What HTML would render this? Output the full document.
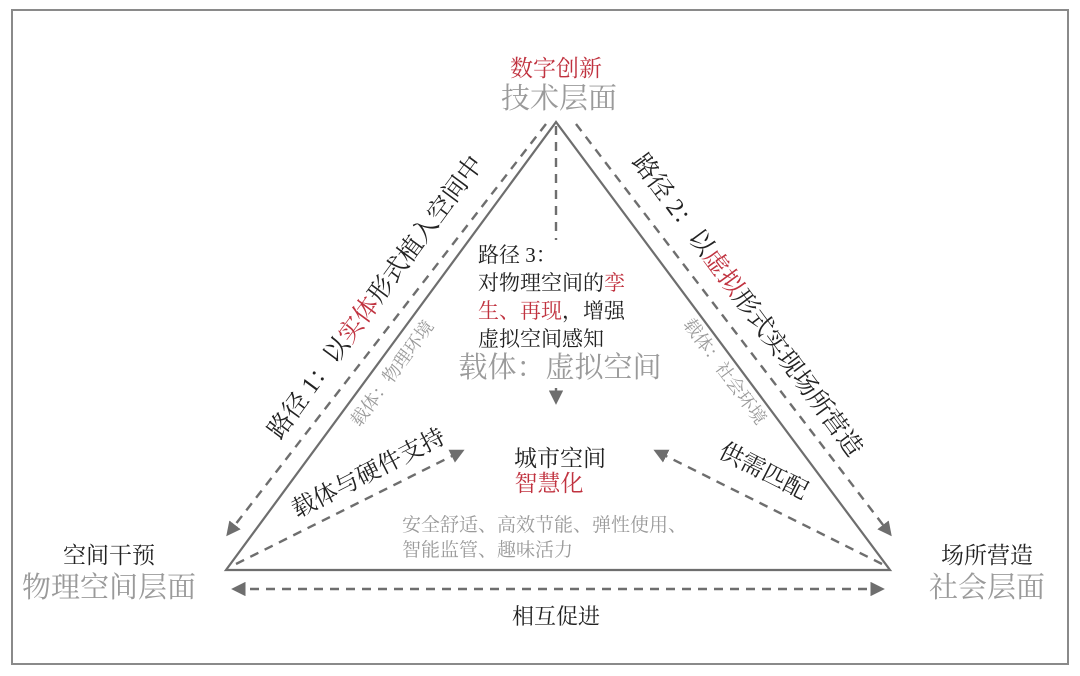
<!DOCTYPE html>
<html><head><meta charset="utf-8"><style>
html,body{margin:0;padding:0;background:#fff;}
svg{display:block;}
text{font-family:"Liberation Serif","Noto Serif CJK SC",serif;}
.b{fill:#222;}
.g{fill:#9a9a9a;}
.r{fill:#c0323f;}
</style></head><body>
<svg width="1080" height="676" viewBox="0 0 1080 676" xmlns="http://www.w3.org/2000/svg">
<defs>
<marker id="ah" viewBox="0 0 10 10" refX="8" refY="5" markerWidth="6" markerHeight="6" orient="auto-start-reverse">
<path d="M0,0 L10,5 L0,10 z" fill="#6e6e6e"/></marker>
</defs>
<rect x="12" y="10" width="1056" height="654" fill="none" stroke="#8a8a8a" stroke-width="2"/>
<polygon points="556,122 226,570 890,570" fill="none" stroke="#6e6e6e" stroke-width="2.2"/>
<g stroke="#6e6e6e" stroke-width="2.4" stroke-dasharray="9,7" fill="none">
<line x1="546" y1="124" x2="228" y2="534" marker-end="url(#ah)"/>
<line x1="576" y1="124" x2="890" y2="534" marker-end="url(#ah)"/>
<line x1="556" y1="126" x2="556" y2="240"/>
<line x1="234" y1="589" x2="882" y2="589" marker-start="url(#ah)" marker-end="url(#ah)"/>
<line x1="236" y1="564" x2="462" y2="451" marker-end="url(#ah)"/>
<line x1="882" y1="564" x2="656" y2="451" marker-end="url(#ah)"/>
</g>
<line x1="556" y1="388" x2="556" y2="402" stroke="#6e6e6e" stroke-width="2.4" marker-end="url(#ah)"/>
<text x="556" y="76" font-size="23" text-anchor="middle" class="r">数字创新</text>
<text x="559" y="108" font-size="29" text-anchor="middle" class="g">技术层面</text>
<text x="109" y="563" font-size="23" text-anchor="middle" class="b">空间干预</text>
<text x="109" y="597" font-size="29" text-anchor="middle" class="g">物理空间层面</text>
<text x="987" y="563" font-size="23" text-anchor="middle" class="b">场所营造</text>
<text x="987" y="597" font-size="29" text-anchor="middle" class="g">社会层面</text>
<text x="556" y="624" font-size="22" text-anchor="middle" class="b">相互促进</text>
<text x="478" y="262" font-size="21" class="b">路径 3：</text>
<text x="478" y="290" font-size="21" class="b">对物理空间的<tspan class="r">孪</tspan></text>
<text x="478" y="318" font-size="21"><tspan class="r">生、再现</tspan><tspan class="b">，增强</tspan></text>
<text x="478" y="346" font-size="21" class="b">虚拟空间感知</text>
<text x="560" y="377" font-size="29" text-anchor="middle" class="g">载体：虚拟空间</text>
<text x="560" y="466" font-size="23" text-anchor="middle" class="b">城市空间</text>
<text x="549" y="491" font-size="23" text-anchor="middle" class="r">智慧化</text>
<text x="402" y="531" font-size="19" class="g">安全舒适、高效节能、弹性使用、</text>
<text x="402" y="556" font-size="19" class="g">智能监管、趣味活力</text>
<text transform="translate(372,480) rotate(-27)" font-size="24" text-anchor="middle" class="b">载体与硬件支持</text>
<text transform="translate(760,478) rotate(27)" font-size="24" text-anchor="middle" class="b">供需匹配</text>
<text transform="translate(382,302) rotate(-53.6)" font-size="25" text-anchor="middle" class="b">路径 1：以<tspan class="r">实体</tspan>形式植入空间中</text>
<text transform="translate(397,377) rotate(-53.6)" font-size="18" text-anchor="middle" class="g">载体：物理环境</text>
<text transform="translate(741,310) rotate(53.6)" font-size="25" text-anchor="middle" class="b">路径 2：以<tspan class="r">虚拟</tspan>形式实现场所营造</text>
<text transform="translate(720,375) rotate(53.6)" font-size="18" text-anchor="middle" class="g">载体：社会环境</text>
</svg>
</body></html>
